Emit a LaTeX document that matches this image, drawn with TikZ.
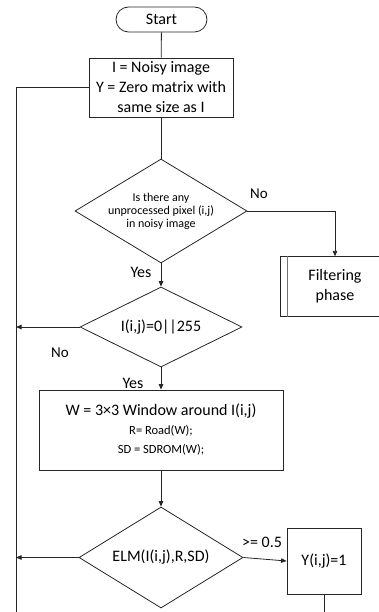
\documentclass[tikz,border=0pt]{standalone}
\usepackage{fontspec}
\setmainfont{Carlito}
\usetikzlibrary{shapes.geometric,arrows.meta}

\tikzset{
  x=1pt, y=-1pt,
  line/.style={draw=black!85, line width=0.8pt},
  arr/.style={line, -{Triangle[length=5.5pt,width=4.5pt]}},
  txt/.style={font=\fontsize{16}{20}\selectfont, align=center},
  box/.style={line, rectangle, inner sep=0pt, txt},
  term/.style={line, rectangle, rounded corners=12.5pt, inner sep=0pt, txt},
  dia/.style={line, diamond, inner sep=0pt},
  lbl/.style={txt, inner sep=0pt},
}

\begin{document}
\begin{tikzpicture}
\useasboundingbox (0,0) rectangle (379,612);
\clip (0,0) rectangle (379,612);

% main column
\node[term, minimum width=91pt, minimum height=25pt] (start) at (161.5,19.5) {Start};
\node[box, minimum width=144pt, minimum height=59pt] (init) at (161,87.5)
  {I = Noisy image\\Y = Zero matrix with\\same size as I};
\node[dia, minimum width=172pt, minimum height=104pt,
  label={[lbl, font=\fontsize{12}{13}\selectfont]center:Is there any\\unprocessed pixel (i,j)\\in noisy image}]
  (d1) at (161,211) {};
\node[dia, minimum width=162pt, minimum height=80pt,
  label={[lbl]center:I(i,j)=0||255}] (d2) at (161,327) {};
\node[box, minimum width=244pt, minimum height=80pt] (win) at (161,430)
  {W = 3×3 Window around I(i,j)\\[-1pt]
   {\fontsize{12.5}{20}\selectfont R= Road(W);}\\[-1pt]
   {\fontsize{12.5}{20}\selectfont SD = SDROM(W);}};
\node[dia, minimum width=164pt, minimum height=101pt,
  label={[lbl]center:ELM(I(i,j),R,SD)}] (d3) at (161,557.5) {};

% side boxes
\node[box, minimum width=110pt, minimum height=59.5pt] (filt) at (335,286.5)
  {Filtering\\phase};
\draw[draw=black!55, line width=0.8pt] ([xshift=7.5pt]filt.north west) -- ([xshift=7.5pt]filt.south west);
\node[box, minimum width=74pt, minimum height=66pt] (ybox) at (324,561) {Y(i,j)=1};

% loop-back line on the left
\coordinate (looptop) at (16,87.5);
\coordinate (loopbot) at (16,612);
\coordinate (yend) at (324,612);
\coordinate (fcorner) at (335,211);

% connectors
\draw[line] (start) -- (init);
\draw[line] (init) -- (d1);
\draw[line] (init.west) -- (looptop) -- (loopbot);
\draw[arr] (d1.east) -- (fcorner) -- (filt.north);
\draw[arr] (d1.south) -- (d2.north);
\draw[arr] (d2.west) -- (d2.west -| looptop);
\draw[arr] (d2.south) -- (win.north);
\draw[arr] (win.south) -- (d3.north);
\draw[arr] (d3.west) -- (d3.west -| looptop);
\draw[arr] (d3.east) -- (ybox.west);
\draw[line] (ybox.south) -- (yend);

% connector labels
\node[lbl, font=\fontsize{15}{18}\selectfont] (no1) at (259,194) {No};
\node[lbl] (yes1) at (141,272) {Yes};
\node[lbl, font=\fontsize{15}{18}\selectfont] (no2) at (60,353) {No};
\node[lbl] (yes2) at (133,383) {Yes};
\node[lbl] (ge) at (262,542) {>= 0.5};
\end{tikzpicture}
\end{document}
